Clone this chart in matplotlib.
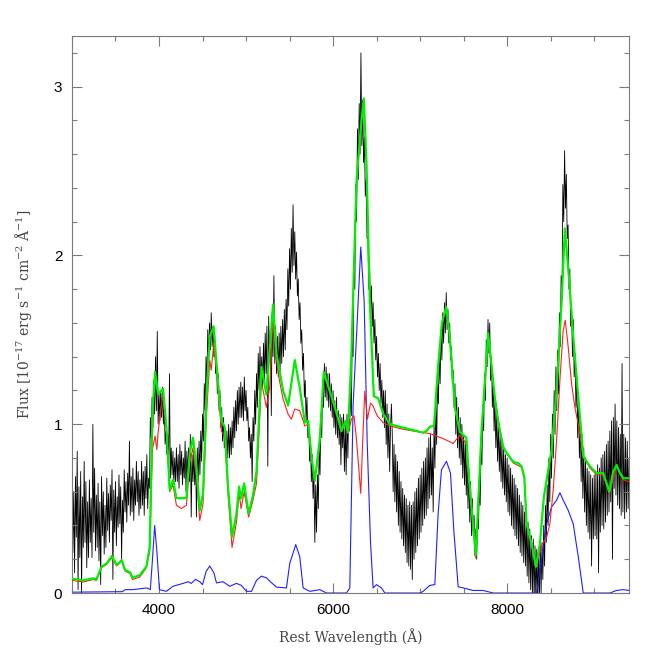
"""Rest-frame spectrum with the fitted model and its two components."""

import matplotlib
matplotlib.use("Agg")
import matplotlib.pyplot as plt
import numpy as np
from matplotlib.ticker import MultipleLocator

# --- observed spectrum, 10 A sampling from 3000 to 9400 (one row = 200 A) ---
obs_start = 3000
obs_step = 10
obs_flux = [
    0.93, 0.24, 0.60, 0.12, 0.69, 0.33, 0.84, 0.02, 0.63, 0.21, 0.72, 0.00, 0.57, 0.27, 0.78, 0.30, 0.66, 0.15, 0.54, 0.21,
    0.67, 0.30, 0.56, 0.21, 1.00, 0.36, 0.74, 0.25, 0.58, 0.27, 0.65, 0.19, 0.54, 0.05, 0.69, 0.34, 0.60, 0.23, 0.52, 0.27,
    0.68, 0.37, 0.59, 0.30, 0.64, 0.43, 0.73, 0.08, 0.61, 0.36, 0.66, 0.28, 0.57, 0.39, 0.70, 0.41, 0.63, 0.20, 0.55, 0.36,
    0.73, 0.48, 0.66, 0.42, 0.71, 0.52, 0.90, 0.46, 0.69, 0.48, 0.74, 0.43, 0.67, 0.52, 0.78, 0.54, 0.72, 0.46, 0.67, 0.50,
    0.78, 0.52, 0.72, 0.46, 0.75, 0.56, 0.82, 0.50, 0.68, 0.62, 1.04, 0.92, 1.16, 0.98, 1.26, 1.06, 1.40, 1.08, 1.55, 1.00,
    1.18, 1.02, 1.20, 1.04, 1.22, 1.00, 1.12, 0.88, 0.96, 0.82, 0.94, 0.72, 1.30, 0.68, 0.86, 0.70, 0.84, 0.64, 0.80, 0.66,
    0.86, 0.66, 0.82, 0.62, 0.88, 0.70, 0.84, 0.64, 0.80, 0.68, 0.90, 0.60, 0.84, 0.70, 0.86, 0.66, 0.94, 0.45, 0.82, 0.66,
    0.84, 0.64, 0.82, 0.45, 0.86, 0.66, 0.90, 0.70, 0.96, 0.78, 1.06, 0.90, 1.24, 1.08, 1.40, 1.24, 1.56, 1.38, 1.60, 1.44,
    1.66, 1.46, 1.58, 1.40, 1.50, 1.30, 1.40, 1.18, 1.30, 1.08, 1.20, 0.98, 1.10, 0.90, 1.04, 0.86, 0.98, 0.80, 0.96, 0.80,
    1.00, 0.80, 0.98, 0.82, 1.02, 0.86, 1.10, 0.92, 1.14, 0.96, 1.20, 1.00, 1.22, 1.04, 1.25, 1.04, 1.22, 1.02, 1.28, 1.08,
    1.20, 1.02, 1.10, 0.90, 0.98, 0.80, 0.94, 0.66, 1.04, 0.90, 1.20, 1.00, 1.30, 1.10, 1.42, 1.20, 1.46, 1.24, 1.40, 1.22,
    1.48, 1.26, 1.54, 1.30, 1.58, 0.75, 1.64, 1.38, 1.56, 1.05, 1.66, 1.40, 1.88, 1.36, 1.58, 1.30, 1.52, 1.28, 1.54, 1.30,
    1.58, 1.36, 1.62, 1.40, 1.68, 1.44, 1.74, 1.56, 1.92, 1.70, 2.04, 1.80, 2.16, 1.90, 2.30, 1.94, 2.14, 1.86, 2.02, 1.76,
    1.86, 1.62, 1.72, 1.48, 1.56, 1.32, 1.42, 1.16, 1.26, 1.02, 1.16, 0.92, 1.02, 0.78, 0.92, 0.66, 0.82, 0.56, 0.72, 0.30,
    0.64, 0.36, 0.70, 0.50, 0.86, 0.70, 1.06, 0.92, 1.26, 1.10, 1.36, 1.16, 1.34, 1.14, 1.30, 1.10, 1.30, 1.08, 1.24, 1.04,
    1.20, 0.98, 1.14, 0.94, 1.16, 0.92, 1.08, 0.88, 1.06, 0.76, 1.04, 0.86, 1.06, 0.72, 1.00, 0.70, 1.06, 0.80, 1.10, 0.96,
    1.22, 1.05, 1.55, 1.40, 2.00, 1.80, 2.42, 2.20, 2.75, 2.45, 2.90, 2.60, 3.20, 2.65, 2.92, 2.55, 2.70, 2.35, 2.45, 2.10,
    2.10, 1.80, 1.92, 1.66, 1.82, 1.58, 1.72, 1.48, 1.62, 1.38, 1.52, 1.28, 1.42, 1.20, 1.36, 1.12, 1.26, 1.04, 1.20, 0.98,
    1.20, 0.88, 1.12, 0.80, 1.06, 0.72, 0.98, 1.12, 0.94, 0.60, 0.88, 0.54, 0.82, 0.48, 0.78, 0.40, 0.72, 0.36, 0.66, 0.32,
    0.62, 0.28, 0.58, 0.24, 0.56, 0.18, 0.52, 0.16, 0.54, 0.14, 0.52, 0.08, 0.54, 0.20, 0.60, 0.24, 0.62, 0.28, 0.68, 0.32,
    0.70, 0.36, 0.74, 0.40, 0.78, 0.44, 0.80, 0.46, 0.86, 0.50, 0.92, 0.56, 0.94, 0.58, 0.86, 0.48, 1.00, 0.74, 1.14, 0.88,
    1.26, 1.12, 1.42, 1.24, 1.56, 1.38, 1.66, 1.48, 1.72, 1.54, 1.78, 1.56, 1.68, 1.48, 1.60, 1.38, 1.46, 1.24, 1.32, 1.10,
    1.24, 0.94, 1.16, 0.86, 1.10, 0.80, 1.04, 0.76, 1.00, 0.68, 0.94, 0.64, 0.90, 0.58, 0.82, 0.50, 0.74, 0.42, 0.66, 0.34,
    0.56, 0.34, 0.46, 0.22, 0.38, 0.20, 0.46, 0.38, 0.62, 0.52, 0.86, 0.76, 1.10, 0.96, 1.30, 1.14, 1.50, 1.34, 1.62, 1.42,
    1.60, 1.26, 1.40, 1.10, 1.26, 0.96, 1.14, 0.86, 1.06, 0.78, 1.00, 0.72, 0.94, 0.66, 0.90, 0.62, 0.86, 0.58, 0.82, 0.54,
    0.80, 0.48, 0.76, 0.46, 0.74, 0.40, 0.70, 0.38, 0.68, 0.34, 0.64, 0.32, 0.62, 0.28, 0.58, 0.24, 0.54, 0.22, 0.52, 0.18,
    0.48, 0.16, 0.44, 0.10, 0.42, 0.06, 0.38, 0.02, 0.34, -0.02, 0.32, -0.05, 0.28, -0.06, 0.26, -0.06, 0.24, -0.05, 0.30, 0.00,
    0.30, 0.08, 0.40, 0.16, 0.52, 0.30, 0.64, 0.40, 0.80, 0.54, 0.94, 0.68, 1.06, 0.80, 1.20, 0.94, 1.34, 1.08, 1.44, 1.18,
    1.66, 1.46, 1.88, 1.74, 2.42, 2.20, 2.62, 2.28, 2.48, 2.10, 2.18, 1.80, 1.92, 1.58, 1.70, 1.40, 1.62, 1.28, 1.42, 1.10,
    1.28, 0.92, 1.16, 0.80, 1.04, 0.66, 0.94, 0.56, 0.86, 0.48, 0.80, 0.40, 0.74, 0.36, 0.72, 0.32, 0.70, 0.16, 0.68, 0.32,
    0.70, 0.34, 0.72, 0.32, 0.76, 0.12, 0.74, 0.36, 0.80, 0.40, 0.82, 0.38, 0.84, 0.42, 0.88, 0.46, 0.90, 0.48, 0.96, 0.54,
    1.02, 0.20, 1.04, 0.62, 1.12, 0.58, 1.02, 0.52, 0.98, 0.50, 0.94, 0.46, 1.36, 0.48, 0.94, 0.44, 0.92, 0.48, 0.90, 0.50,
    0.80,
]

# --- total model (green) ---
model_wave = [
    3000, 3130, 3245, 3280, 3340, 3400, 3457, 3515, 3572, 3610,
    3668, 3695, 3780, 3855, 3893, 3924, 3954, 3989, 4046, 4085,
    4123, 4161, 4200, 4257, 4315, 4353, 4390, 4430, 4468, 4506,
    4545, 4583, 4629, 4660, 4717, 4755, 4793, 4839, 4890, 4920,
    4943, 4978, 5030, 5080, 5120, 5177, 5200, 5234, 5310, 5349,
    5425, 5483, 5560, 5617, 5675, 5713, 5752, 5790, 5847, 5893,
    5962, 6039, 6096, 6142, 6173, 6211, 6269, 6318, 6353, 6384,
    6422, 6468, 6518, 6575, 6652, 6805, 7035, 7073, 7111, 7160,
    7200, 7250, 7300, 7341, 7399, 7456, 7531, 7563, 7640, 7706,
    7782, 7858, 7900, 7955, 7993, 8070, 8127, 8165, 8197, 8223,
    8280, 8330, 8376, 8422, 8472, 8510, 8568, 8625, 8663, 8713,
    8759, 8817, 8875, 8951, 9028, 9104, 9143, 9173, 9219, 9258,
    9296, 9334, 9400,
]
model_flux = [
    0.085, 0.075, 0.087, 0.080, 0.156, 0.176, 0.219, 0.166, 0.195, 0.136,
    0.122, 0.090, 0.107, 0.156, 0.274, 1.066, 1.310, 1.180, 1.210, 0.985,
    0.610, 0.670, 0.562, 0.562, 0.562, 0.830, 0.920, 0.750, 0.490, 0.590,
    1.160, 1.520, 1.580, 1.360, 1.020, 0.985, 0.630, 0.333, 0.470, 0.630,
    0.560, 0.650, 0.470, 0.580, 0.720, 1.340, 1.270, 1.175, 1.710, 1.420,
    1.200, 1.110, 1.380, 1.216, 1.010, 1.020, 0.810, 0.665, 0.910, 1.310,
    1.196, 1.070, 0.960, 1.020, 0.950, 1.420, 2.440, 2.750, 2.930, 2.540,
    1.730, 1.165, 1.155, 1.063, 1.000, 0.980, 0.950, 0.960, 0.985, 0.990,
    1.300, 1.600, 1.695, 1.520, 1.100, 0.955, 0.920, 0.670, 0.225, 0.965,
    1.540, 1.160, 1.000, 0.866, 0.830, 0.777, 0.770, 0.750, 0.690, 0.410,
    0.294, 0.156, 0.290, 0.570, 0.728, 0.847, 1.200, 1.720, 2.160, 1.850,
    1.520, 1.160, 0.810, 0.750, 0.710, 0.710, 0.650, 0.600, 0.720, 0.758,
    0.710, 0.680, 0.680,
]

# --- first component (red) ---
red_wave = [
    3000, 3130, 3245, 3280, 3340, 3400, 3457, 3515, 3572, 3610,
    3668, 3695, 3780, 3855, 3893, 3924, 3954, 3975, 3989, 4046,
    4085, 4123, 4161, 4200, 4257, 4315, 4353, 4390, 4430, 4468,
    4506, 4545, 4583, 4600, 4629, 4660, 4717, 4755, 4793, 4839,
    4890, 4920, 4943, 4978, 5030, 5080, 5120, 5177, 5234, 5272,
    5310, 5349, 5387, 5425, 5483, 5520, 5560, 5617, 5675, 5713,
    5752, 5790, 5847, 5893, 5962, 6039, 6096, 6142, 6173, 6211,
    6240, 6269, 6300, 6318, 6341, 6364, 6395, 6430, 6457, 6507,
    6575, 6652, 6805, 7035, 7111, 7264, 7380, 7456, 7531, 7563,
    7640, 7706, 7782, 7858, 7955, 8070, 8165, 8197, 8223, 8280,
    8330, 8376, 8414, 8453, 8491, 8529, 8568, 8606, 8644, 8667,
    8701, 8740, 8778, 8817, 8855, 8875, 8951, 9028, 9104, 9173,
    9258, 9314, 9334, 9400,
]
red_flux = [
    0.075, 0.065, 0.080, 0.075, 0.150, 0.170, 0.210, 0.160, 0.190, 0.130,
    0.115, 0.080, 0.095, 0.150, 0.250, 0.850, 0.930, 0.850, 0.950, 1.180,
    0.970, 0.600, 0.640, 0.520, 0.500, 0.520, 0.770, 0.860, 0.680, 0.430,
    0.530, 1.050, 1.380, 1.320, 1.480, 1.320, 0.960, 0.930, 0.590, 0.270,
    0.420, 0.590, 0.500, 0.600, 0.450, 0.550, 0.650, 1.250, 1.100, 1.220,
    1.630, 1.380, 1.250, 1.150, 1.060, 1.030, 1.090, 1.080, 0.990, 1.000,
    0.800, 0.660, 0.900, 1.300, 1.190, 1.060, 0.955, 1.010, 0.950, 1.030,
    1.050, 0.910, 0.706, 0.590, 0.910, 1.196, 1.030, 1.125, 1.110, 1.050,
    1.010, 0.990, 0.970, 0.950, 0.945, 0.915, 0.886, 0.935, 0.886, 0.670,
    0.207, 0.960, 1.530, 1.150, 0.860, 0.770, 0.745, 0.680, 0.410, 0.290,
    0.160, 0.240, 0.300, 0.330, 0.410, 0.610, 0.906, 1.260, 1.557, 1.616,
    1.460, 1.240, 1.100, 1.000, 0.866, 0.810, 0.740, 0.700, 0.700, 0.590,
    0.750, 0.700, 0.670, 0.660,
]

# --- second component (blue) ---
blue_wave = [
    3000, 3580, 3610, 3700, 3860, 3900, 3925, 3950, 3975, 4005,
    4085, 4160, 4276, 4335, 4370, 4420, 4468, 4500, 4540, 4583,
    4630, 4660, 4736, 4812, 4890, 4947, 5005, 5063, 5120, 5177,
    5235, 5273, 5349, 5464, 5502, 5571, 5617, 5656, 5733, 5847,
    5924, 6154, 6192, 6230, 6269, 6318, 6357, 6391, 6430, 6460,
    6499, 6556, 6595, 7000, 7035, 7111, 7169, 7207, 7245, 7303,
    7349, 7387, 7437, 7495, 7610, 7725, 7840, 8338, 8395, 8453,
    8510, 8568, 8606, 8644, 8701, 8759, 8817, 8874, 9180, 9256,
    9333, 9400,
]
blue_flux = [
    0.005, 0.008, 0.020, 0.020, 0.030, 0.020, 0.200, 0.400, 0.250, 0.020,
    0.010, 0.040, 0.057, 0.067, 0.057, 0.081, 0.067, 0.050, 0.126, 0.160,
    0.120, 0.060, 0.067, 0.040, 0.057, 0.045, 0.010, 0.010, 0.075, 0.100,
    0.090, 0.070, 0.035, 0.030, 0.175, 0.287, 0.215, 0.030, 0.010, 0.020,
    0.000, 0.000, 0.030, 1.110, 1.520, 2.050, 1.730, 0.910, 0.297, 0.030,
    0.050, 0.030, 0.000, 0.000, 0.010, 0.045, 0.050, 0.470, 0.730, 0.780,
    0.710, 0.373, 0.037, 0.030, 0.015, 0.015, 0.000, 0.000, 0.195, 0.410,
    0.510, 0.550, 0.594, 0.550, 0.490, 0.410, 0.215, 0.000, 0.000, 0.015,
    0.020, 0.015,
]

X_LABEL = "Rest Wavelength (Å)"
Y_LABEL = r"Flux [10$^{-17}$ erg s$^{-1}$ cm$^{-2}$ Å$^{-1}$]"

AXIS_GREY = "#7a7a7a"
LABEL_GREY = "#454545"

plt.rcParams["mathtext.fontset"] = "dejavuserif"

obs_wave = obs_start + obs_step * np.arange(len(obs_flux))

fig = plt.figure(figsize=(6.64, 6.64), dpi=100)
ax = fig.add_axes([0.1084, 0.1069, 0.8389, 0.8389])

ax.plot(obs_wave, obs_flux, color="black", lw=0.6, zorder=1)
ax.plot(blue_wave, blue_flux, color="#2020ff", lw=0.8, zorder=2)
ax.plot(red_wave, red_flux, color="#ff2020", lw=0.8, zorder=3)
ax.plot(model_wave, model_flux, color="#00ee00", lw=1.6, zorder=4)

ax.set_xlim(3000, 9400)
ax.set_ylim(0, 3.3)

ax.xaxis.set_major_locator(MultipleLocator(2000))
ax.xaxis.set_minor_locator(MultipleLocator(500))
ax.yaxis.set_major_locator(MultipleLocator(1))
ax.yaxis.set_minor_locator(MultipleLocator(0.2))

ax.tick_params(which="both", direction="in", top=True, right=True, color=AXIS_GREY)
ax.tick_params(which="major", length=7, width=0.8, labelsize=11, pad=7)
ax.tick_params(which="minor", length=3.8, width=0.8)
for lab in ax.get_xticklabels() + ax.get_yticklabels():
    lab.set_family("Liberation Sans")
for spine in ax.spines.values():
    spine.set_color(AXIS_GREY)
    spine.set_linewidth(0.8)

ax.set_xlabel(X_LABEL, family="DejaVu Serif", fontsize=10, color=LABEL_GREY, labelpad=8)
ax.set_ylabel(Y_LABEL, family="DejaVu Serif", fontsize=10, color=LABEL_GREY, labelpad=14)

fig.savefig("out.png", dpi=100)
